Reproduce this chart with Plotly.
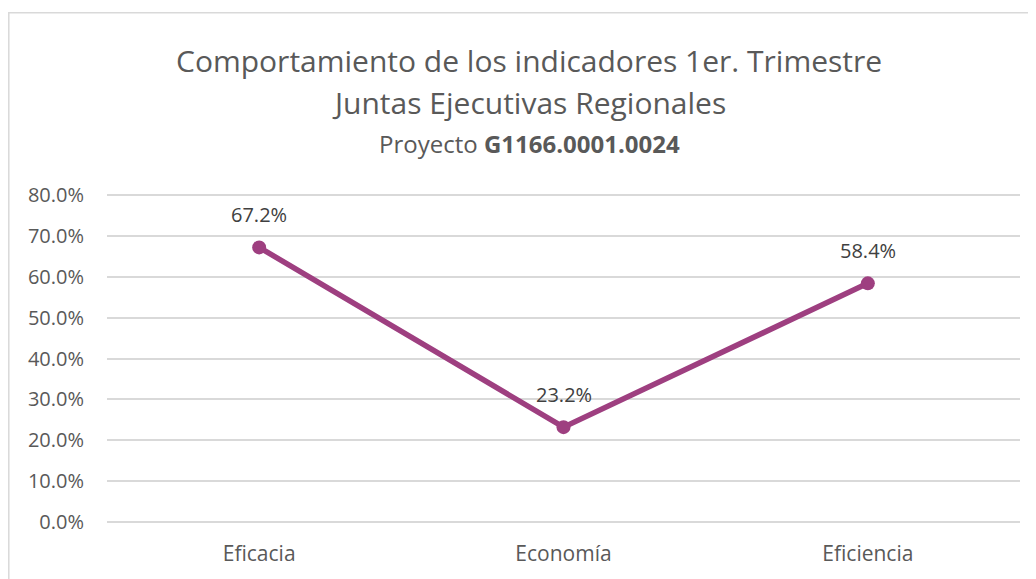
import plotly.graph_objects as go

categories = ["Eficacia", "Economía", "Eficiencia"]
values = [0.672, 0.232, 0.584]
labels = ["67.2%", "23.2%", "58.4%"]
y_ticks = [0, 0.1, 0.2, 0.3, 0.4, 0.5, 0.6, 0.7, 0.8]

OFF = 8  # browser body margin
PAD = 0.01  # small range padding so 0% and 80% gridlines are drawn
PXU = 330 / 0.8  # pixels per unit on y
W, H = 1036 - OFF, 579 - OFF
L, R = 107 - OFF, 16
T = round(195 - OFF - PAD * PXU)
B = round(53 - PAD * PXU)
pw, ph = W - L - R, H - T - B

def px(x):  # page x -> paper
    return (x - OFF - L) / pw

def py(y):  # page y -> paper
    return (H - B - (y - OFF)) / ph

FONT = "Open Sans"
COLOR = "#9E3F80"

fig = go.Figure()
fig.add_trace(go.Scatter(
    x=categories, y=values, mode="lines+markers",
    line=dict(color=COLOR, width=5.5),
    marker=dict(color=COLOR, size=14),
    cliponaxis=False, showlegend=False, hoverinfo="skip",
))

annotations = [
    dict(x=c, y=v, text=t, xref="x", yref="y", showarrow=False, yshift=33,
         xanchor="center", yanchor="middle",
         font=dict(family=FONT, size=20, color="#404040"))
    for c, v, t in zip(categories, values, labels)
]
annotations += [
    dict(text="Comportamiento de los indicadores 1er. Trimestre", xref="paper", yref="paper",
         x=px(529), y=py(59), showarrow=False, xanchor="center", yanchor="middle",
         font=dict(family=FONT, size=30, color="#595959")),
    dict(text="Juntas Ejecutivas Regionales", xref="paper", yref="paper",
         x=px(529), y=py(101), showarrow=False, xanchor="center", yanchor="middle",
         font=dict(family=FONT, size=30, color="#595959")),
    dict(text="Proyecto <b>G1166.0001.0024</b>", xref="paper", yref="paper",
         x=px(529), y=py(143), showarrow=False, xanchor="center", yanchor="middle",
         font=dict(family=FONT, size=24, color="#595959")),
]

fig.update_layout(
    width=W, height=H,
    margin=dict(l=L, r=R, t=T, b=B),
    paper_bgcolor="white", plot_bgcolor="white",
    xaxis=dict(range=[-0.5, 2.5], showgrid=False, showline=False, zeroline=False,
               ticks="", ticklabelstandoff=13,
               tickfont=dict(family=FONT, size=21, color="#595959")),
    yaxis=dict(range=[-PAD, 0.8 + PAD], tickvals=y_ticks, tickformat=".1%",
               showgrid=True, gridcolor="#D9D9D9", gridwidth=1.5, zeroline=False,
               ticks="", ticklabelstandoff=22,
               tickfont=dict(family=FONT, size=20, color="#595959")),
    shapes=[dict(type="rect", xref="paper", yref="paper",
                 x0=px(8.8), x1=px(1060), y0=py(600), y1=py(10.5),
                 line=dict(color="#D9D9D9", width=1.5), fillcolor="rgba(0,0,0,0)", layer="below")],
    annotations=annotations,
)

fig.write_html("out.html")
